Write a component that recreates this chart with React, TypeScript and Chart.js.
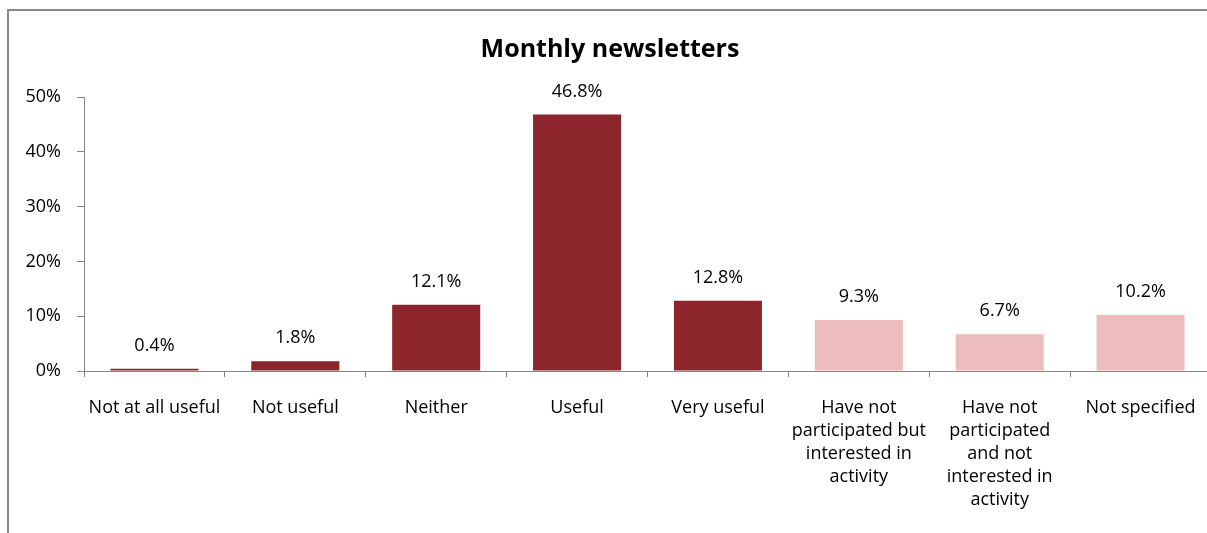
import React, { useEffect, useRef } from "react";
import { Chart, registerables } from "chart.js";

Chart.register(...registerables);

const chartTitle = "Monthly newsletters";
const categories: string[][] = [
  ["Not at all useful"],
  ["Not useful"],
  ["Neither"],
  ["Useful"],
  ["Very useful"],
  ["Have not", "participated but", "interested in", "activity"],
  ["Have not", "participated", "and not", "interested in", "activity"],
  ["Not specified"],
];
const values = [0.4, 1.8, 12.1, 46.8, 12.8, 9.3, 6.7, 10.2];
const DARK = "#8C252C";
const PINK = "#EDBCBD";
const barColors = [DARK, DARK, DARK, DARK, DARK, PINK, PINK, PINK];
const yMin = 0;
const yMax = 50;
const yStep = 10;

const FONT = '"Open Sans", "DejaVu Sans", sans-serif';
const AXIS = "#868686";

const dataLabelPlugin = {
  id: "barValueLabels",
  afterDatasetsDraw(chart: any) {
    const ctx = chart.ctx;
    const meta = chart.getDatasetMeta(0);
    ctx.save();
    ctx.font = `18px ${FONT}`;
    ctx.fillStyle = "#000000";
    ctx.textAlign = "center";
    ctx.textBaseline = "middle";
    meta.data.forEach((bar: any, i: number) => {
      ctx.fillText(values[i].toFixed(1) + "%", bar.x, bar.y - 23);
    });
    ctx.restore();
  },
};

export default function App() {
  const ref = useRef<HTMLCanvasElement | null>(null);

  useEffect(() => {
    if (!ref.current) return;
    const chart = new Chart(ref.current, {
      type: "bar",
      data: {
        labels: categories as any,
        datasets: [
          {
            data: values,
            backgroundColor: barColors,
            borderWidth: 0,
            categoryPercentage: 1,
            barPercentage: 0.625,
          },
        ],
      },
      options: {
        animation: false,
        responsive: false,
        devicePixelRatio: 1,
        layout: { padding: { left: 0, right: 20, top: 0, bottom: 0 } },
        plugins: {
          legend: { display: false },
          tooltip: { enabled: false },
          title: {
            display: true,
            text: chartTitle,
            color: "#000000",
            font: { family: FONT, size: 25, weight: "bold", lineHeight: 1.2 },
            padding: { top: 24, bottom: 32 },
          },
        },
        scales: {
          x: {
            grid: {
              display: true,
              drawOnChartArea: false,
              drawTicks: true,
              tickLength: 6,
              color: AXIS,
              offset: true,
            },
            border: { display: true, color: AXIS, width: 1 },
            ticks: {
              color: "#000000",
              font: { family: FONT, size: 18, lineHeight: 1.28 },
              padding: 19,
              maxRotation: 0,
              minRotation: 0,
              autoSkip: false,
            },
            afterFit(scale: any) {
              scale.height = 162;
            },
          },
          y: {
            min: yMin,
            max: yMax,
            grid: {
              display: true,
              drawOnChartArea: false,
              drawTicks: true,
              tickLength: 7,
              color: AXIS,
            },
            border: { display: true, color: AXIS, width: 1 },
            ticks: {
              stepSize: yStep,
              color: "#000000",
              font: { family: FONT, size: 18 },
              padding: 16,
              callback: (v: any) => v + "%",
            },
            afterFit(scale: any) {
              scale.width = 75;
            },
          },
        },
      },
      plugins: [dataLabelPlugin],
    });
    return () => chart.destroy();
  }, []);

  return (
    <div
      style={{
        position: "fixed",
        left: 7,
        top: 9,
        width: 1240,
        height: 540,
        borderTop: "2px solid #898989",
        borderLeft: "2px solid #898989",
        background: "#ffffff",
      }}
    >
      <canvas ref={ref} width={1222} height={522} style={{ display: "block", width: 1222, height: 522 }} />
    </div>
  );
}
